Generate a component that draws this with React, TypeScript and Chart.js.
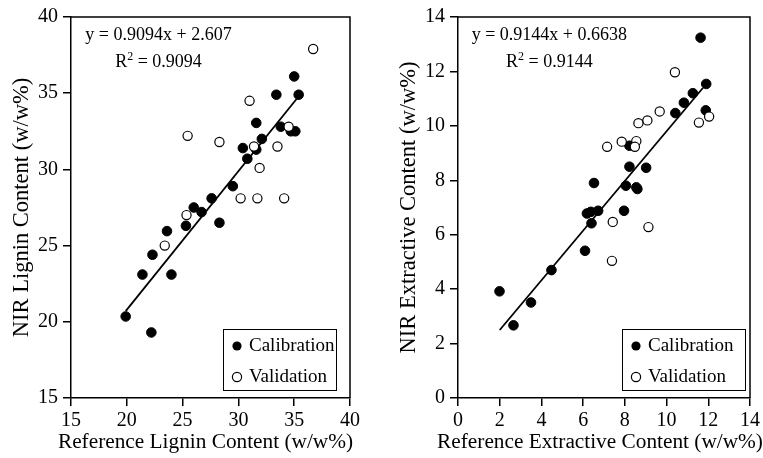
import React, { useEffect, useRef } from "react";
import { Chart, registerables } from "chart.js";

Chart.register(...registerables);

type Pt = { x: number; y: number };

// ---- Data: lignin (left panel) ----
const ligninCalibration: Pt[] = [
  { x: 35.0, y: 36.1 }, { x: 33.4, y: 34.9 }, { x: 35.4, y: 34.9 }, { x: 31.6, y: 33.05 },
  { x: 33.8, y: 32.8 }, { x: 34.7, y: 32.5 }, { x: 35.1, y: 32.5 }, { x: 32.1, y: 32.0 },
  { x: 30.4, y: 31.4 }, { x: 31.6, y: 31.3 }, { x: 30.8, y: 30.7 }, { x: 29.5, y: 28.9 },
  { x: 27.6, y: 28.1 }, { x: 26.0, y: 27.5 }, { x: 26.7, y: 27.2 }, { x: 25.3, y: 26.3 },
  { x: 28.3, y: 26.5 }, { x: 23.6, y: 25.95 }, { x: 22.3, y: 24.4 }, { x: 21.4, y: 23.1 },
  { x: 24.0, y: 23.1 }, { x: 19.9, y: 20.35 }, { x: 22.2, y: 19.3 },
];
const ligninValidation: Pt[] = [
  { x: 36.7, y: 37.9 }, { x: 31.0, y: 34.5 }, { x: 34.5, y: 32.8 }, { x: 25.45, y: 32.2 },
  { x: 28.3, y: 31.8 }, { x: 31.4, y: 31.5 }, { x: 33.5, y: 31.5 }, { x: 31.9, y: 30.1 },
  { x: 30.2, y: 28.1 }, { x: 31.7, y: 28.1 }, { x: 34.1, y: 28.1 }, { x: 25.35, y: 27.0 },
  { x: 23.4, y: 25.0 },
];
const ligninFitLine: Pt[] = [{ x: 19.9, y: 20.7 }, { x: 35.3, y: 34.7 }];
const ligninEquation = "y = 0.9094x + 2.607";
const ligninR2 = "0.9094";

// ---- Data: extractives (right panel) ----
const extractCalibration: Pt[] = [
  { x: 11.63, y: 13.24 }, { x: 11.9, y: 11.54 }, { x: 11.26, y: 11.2 }, { x: 10.83, y: 10.85 },
  { x: 10.42, y: 10.47 }, { x: 11.88, y: 10.57 }, { x: 8.22, y: 9.27 }, { x: 8.22, y: 8.5 },
  { x: 9.02, y: 8.46 }, { x: 6.52, y: 7.9 }, { x: 8.05, y: 7.8 }, { x: 8.55, y: 7.74 },
  { x: 8.6, y: 7.68 }, { x: 6.18, y: 6.78 }, { x: 6.37, y: 6.84 }, { x: 6.72, y: 6.88 },
  { x: 6.4, y: 6.42 }, { x: 7.96, y: 6.88 }, { x: 6.09, y: 5.41 }, { x: 4.48, y: 4.7 },
  { x: 1.99, y: 3.92 }, { x: 3.5, y: 3.51 }, { x: 2.66, y: 2.67 },
];
const extractValidation: Pt[] = [
  { x: 10.4, y: 11.97 }, { x: 12.04, y: 10.34 }, { x: 11.55, y: 10.12 }, { x: 9.67, y: 10.53 },
  { x: 9.08, y: 10.2 }, { x: 8.65, y: 10.1 }, { x: 7.85, y: 9.42 }, { x: 8.55, y: 9.44 },
  { x: 8.48, y: 9.23 }, { x: 7.15, y: 9.23 }, { x: 7.42, y: 6.47 }, { x: 9.13, y: 6.28 },
  { x: 7.38, y: 5.04 },
];
const extractFitLine: Pt[] = [{ x: 2.0, y: 2.5 }, { x: 11.75, y: 11.4 }];
const extractEquation = "y = 0.9144x + 0.6638";
const extractR2 = "0.9144";

const legendLabels = ["Calibration", "Validation"];

const FONT = '"Liberation Serif", "Times New Roman", serif';

interface PanelCfg {
  calib: Pt[];
  valid: Pt[];
  fit: Pt[];
  eq: string;
  r2: string;
  xMin: number; xMax: number; xStep: number;
  yMin: number; yMax: number; yStep: number;
  xTitle: string;
  yTitle: string;
  yAxisWidth: number;
  padRight: number;
  yTitlePad: number;
  xTitleShift: number;
  eqCenter: number;
  legendX: number;
  legendW: number;
}

function makeChart(canvas: HTMLCanvasElement, c: PanelCfg) {
  const overlay = {
    id: "overlay",
    afterDraw(chart: any) {
      const { ctx, chartArea: a } = chart;
      ctx.save();
      ctx.strokeStyle = "#000";
      ctx.lineWidth = 1.5;
      ctx.beginPath();
      ctx.moveTo(a.left, a.top);
      ctx.lineTo(a.right, a.top);
      ctx.lineTo(a.right, a.bottom);
      ctx.stroke();

      // x axis title (drawn here so it may be wider than the plot area)
      ctx.fillStyle = "#000";
      ctx.font = `21.3px ${FONT}`;
      ctx.textAlign = "center";
      ctx.textBaseline = "middle";
      ctx.fillText(c.xTitle, (a.left + a.right) / 2 + c.xTitleShift, a.bottom + 44);

      // equation
      ctx.font = `18px ${FONT}`;
      ctx.textBaseline = "alphabetic";
      ctx.textAlign = "center";
      const cx = a.left + c.eqCenter;
      ctx.fillText(c.eq, cx, a.top + 23);
      ctx.textAlign = "left";
      const big = `18px ${FONT}`;
      const small = `12px ${FONT}`;
      ctx.font = big;
      const wR = ctx.measureText("R").width;
      const rest = " = " + c.r2;
      const wRest = ctx.measureText(rest).width;
      ctx.font = small;
      const w2 = ctx.measureText("2").width;
      let x = cx - (wR + w2 + wRest) / 2;
      const y2 = a.top + 50;
      ctx.font = big;
      ctx.fillText("R", x, y2);
      x += wR;
      ctx.font = small;
      ctx.fillText("2", x, y2 - 7);
      x += w2;
      ctx.font = big;
      ctx.fillText(rest, x, y2);

      // legend
      const lx = a.right + c.legendX;
      const ly = a.top + 312;
      ctx.lineWidth = 1;
      ctx.strokeStyle = "#000";
      ctx.strokeRect(lx + 0.5, ly + 0.5, c.legendW, 61);
      ctx.font = `19px ${FONT}`;
      ctx.textBaseline = "middle";
      const rows = [ly + 17, ly + 48];
      rows.forEach((ry, i) => {
        ctx.beginPath();
        ctx.arc(lx + 14, ry, 4.6, 0, Math.PI * 2);
        if (i === 0) {
          ctx.fillStyle = "#000";
          ctx.fill();
        } else {
          ctx.fillStyle = "#fff";
          ctx.fill();
          ctx.lineWidth = 1.2;
          ctx.stroke();
        }
        ctx.fillStyle = "#000";
        ctx.fillText(legendLabels[i], lx + 26, ry);
      });
      ctx.restore();
    },
  };

  const axisCommon = {
    type: "linear" as const,
    grid: {
      display: true,
      drawOnChartArea: false,
      drawTicks: true,
      tickLength: 8,
      color: "#000",
      lineWidth: 1.5,
    },
    border: { display: true, color: "#000", width: 1.5 },
  };

  return new Chart(canvas, {
    type: "scatter",
    data: {
      datasets: [
        {
          label: legendLabels[1],
          data: c.valid,
          pointRadius: 4.6,
          pointBackgroundColor: "#fff",
          pointBorderColor: "#000",
          pointBorderWidth: 1.2,
        },
        {
          label: legendLabels[0],
          data: c.calib,
          pointRadius: 4.8,
          pointBackgroundColor: "#000",
          pointBorderColor: "#000",
          pointBorderWidth: 1,
        },
        {
          type: "line",
          label: "fit",
          data: c.fit,
          showLine: true,
          pointRadius: 0,
          borderColor: "#000",
          borderWidth: 1.8,
          fill: false,
        } as any,
      ],
    },
    options: {
      animation: false,
      responsive: false,
      maintainAspectRatio: false,
      layout: { padding: { left: 0, right: c.padRight, top: 14, bottom: 0 } },
      plugins: { legend: { display: false }, tooltip: { enabled: false } },
      scales: {
        x: {
          ...axisCommon,
          min: c.xMin,
          max: c.xMax,
          ticks: { stepSize: c.xStep, color: "#000", font: { size: 20, family: FONT }, padding: 3, maxRotation: 0 },
          title: { display: false },
          afterFit(scale: any) {
            scale.height = 60;
          },
        },
        y: {
          ...axisCommon,
          min: c.yMin,
          max: c.yMax,
          ticks: { stepSize: c.yStep, color: "#000", font: { size: 20, family: FONT }, padding: 5 },
          title: {
            display: true,
            text: c.yTitle,
            color: "#000",
            font: { size: 22.5, family: FONT },
            padding: { top: c.yTitlePad, bottom: 0 },
          },
          afterFit(scale: any) {
            scale.width = c.yAxisWidth;
          },
        },
      },
    } as any,
    plugins: [overlay],
  });
}

export default function App() {
  const leftRef = useRef<HTMLCanvasElement>(null);
  const rightRef = useRef<HTMLCanvasElement>(null);

  useEffect(() => {
    const left = makeChart(leftRef.current!, {
      calib: ligninCalibration,
      valid: ligninValidation,
      fit: ligninFitLine,
      eq: ligninEquation,
      r2: ligninR2,
      xMin: 15, xMax: 40, xStep: 5,
      yMin: 15, yMax: 40, yStep: 5,
      xTitle: "Reference Lignin Content (w/w%)",
      yTitle: "NIR Lignin Content (w/w%)",
      yAxisWidth: 71,
      padRight: 30,
      yTitlePad: 9,
      xTitleShift: -5,
      eqCenter: 87.5,
      legendX: -127,
      legendW: 113,
    });
    const right = makeChart(rightRef.current!, {
      calib: extractCalibration,
      valid: extractValidation,
      fit: extractFitLine,
      eq: extractEquation,
      r2: extractR2,
      xMin: 0, xMax: 14, xStep: 2,
      yMin: 0, yMax: 14, yStep: 2,
      xTitle: "Reference Extractive Content (w/w%)",
      yTitle: "NIR Extractive Content (w/w%)",
      yAxisWidth: 78,
      padRight: 12,
      yTitlePad: 16,
      xTitleShift: -4,
      eqCenter: 91.3,
      legendX: -128,
      legendW: 123,
    });
    return () => {
      left.destroy();
      right.destroy();
    };
  }, []);

  return (
    <div style={{ position: "absolute", left: 0, top: 0, width: 763, height: 458, background: "#fff" }}>
      <canvas ref={leftRef} width={380} height={458} style={{ position: "absolute", left: 0, top: 0 }} />
      <canvas ref={rightRef} width={383} height={458} style={{ position: "absolute", left: 380, top: 0 }} />
    </div>
  );
}
